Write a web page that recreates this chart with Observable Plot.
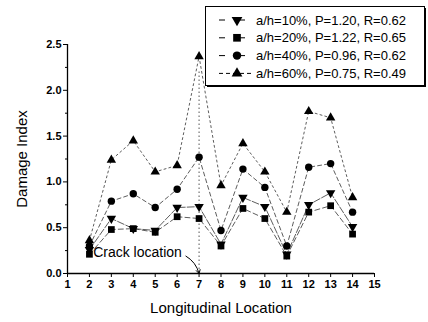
<!DOCTYPE html>
<html><head><meta charset="utf-8">
<script src="https://cdn.jsdelivr.net/npm/d3@7"></script>
<script src="https://cdn.jsdelivr.net/npm/@observablehq/plot@0.6"></script>
<style>
body{margin:0;background:#fff;}
#wrap{position:relative;width:428px;height:322px;font-family:"Liberation Sans",Arial,sans-serif;}
#legend{position:absolute;left:205px;top:6px;}
</style></head><body><div id="wrap"></div>
<script>
// ---- data ----
const locations = [2, 3, 4, 5, 6, 7, 8, 9, 10, 11, 12, 13, 14];
const seriesNames = ["a/h=10%, P=1.20, R=0.62", "a/h=20%, P=1.22, R=0.65", "a/h=40%, P=0.96, R=0.62", "a/h=60%, P=0.75, R=0.49"];
const damage10 = [0.26, 0.60, 0.49, 0.47, 0.72, 0.73, 0.32, 0.83, 0.73, 0.21, 0.75, 0.88, 0.51];
const damage20 = [0.21, 0.48, 0.49, 0.45, 0.62, 0.60, 0.30, 0.71, 0.60, 0.19, 0.67, 0.74, 0.43];
const damage40 = [0.30, 0.79, 0.87, 0.72, 0.92, 1.27, 0.47, 1.14, 0.94, 0.30, 1.16, 1.20, 0.67];
const damage60 = [0.36, 1.24, 1.45, 1.11, 1.18, 2.37, 0.96, 1.42, 1.11, 0.67, 1.77, 1.70, 0.83];
const yTicks = [0, 0.5, 1.0, 1.5, 2.0, 2.5];
const yMinorTicks = [0.25, 0.75, 1.25, 1.75, 2.25];
const xTicks = [1, 2, 3, 4, 5, 6, 7, 8, 9, 10, 11, 12, 13, 14, 15];
const xLabel = "Longitudinal Location";
const yLabel = "Damage Index";
const crackLocation = 7;
const crackLineTop = 2.2;
const crackLabel = "Crack location";
const crackLabelPos = {x: 2.17, y: 0.23};
const crackArrowStart = {x: 6.4, y: 0.19};

// ---- symbols ----
const downTriangle = {
  draw(ctx, size) {
    const y = -Math.sqrt(size / (Math.sqrt(3) * 3));
    ctx.moveTo(0, -y * 2);
    ctx.lineTo(-Math.sqrt(3) * y, y);
    ctx.lineTo(Math.sqrt(3) * y, y);
    ctx.closePath();
  }
};
const styles = [
  {symbol: downTriangle, r: 3.5, dash: "7,2"},
  {symbol: "square", r: 3.8, dash: "5,3"},
  {symbol: "circle", r: 3.7, dash: "4,3"},
  {symbol: "triangle", r: 3.5, dash: "2,3"}
];
const values = [damage10, damage20, damage40, damage60];
const tables = values.map((vals, i) => locations.map((loc, j) => ({x: loc, y: vals[j], s: seriesNames[i]})));

const drawOrder = [3, 2, 1, 0];
const marks = [];
for (const i of drawOrder) {
  marks.push(Plot.line(tables[i], {x: "x", y: "y", stroke: "#333", strokeWidth: 0.8, strokeDasharray: styles[i].dash}));
}
for (const i of drawOrder) {
  const st = styles[i];
  marks.push(Plot.dot(tables[i], {x: "x", y: "y", symbol: st.symbol, r: st.r, fill: "#000", stroke: "none"}));
}

const plot = Plot.plot({
  width: 428, height: 322,
  marginLeft: 67, marginRight: 54, marginTop: 44, marginBottom: 49,
  x: {domain: [1, 15], axis: null},
  y: {domain: [0, 2.5], axis: null},
  style: {fontFamily: "'Liberation Sans', Arial, sans-serif", fontSize: "11px", color: "#000", background: "#fff", overflow: "visible"},
  marks: [
    Plot.ruleX([crackLocation], {y1: 0, y2: crackLineTop, stroke: "#555", strokeDasharray: "1.5,2.5", strokeWidth: 1}),
    ...marks,
    Plot.ruleX([1], {stroke: "#000", strokeWidth: 1.3}),
    Plot.ruleY([0], {stroke: "#000", strokeWidth: 1.3}),
    Plot.axisY({ticks: yTicks, tickFormat: d => d.toFixed(1), tickSize: 4, tickPadding: 2, fontWeight: "bold", fontSize: 11, label: null}),
    Plot.axisY({ticks: yMinorTicks, tickFormat: () => "", tickSize: 2, label: null}),
    Plot.axisX({ticks: xTicks, tickFormat: d => String(d), tickSize: 4, tickPadding: 3, fontWeight: "bold", fontSize: 11, label: null}),
    Plot.text([yLabel], {frameAnchor: "left", text: d => d, rotate: -90, dx: -45, fontSize: 15, textAnchor: "middle", lineAnchor: "middle"}),
    Plot.text([xLabel], {frameAnchor: "bottom", text: d => d, dy: 35, fontSize: 15, textAnchor: "middle", lineAnchor: "middle"}),
    Plot.text([crackLabel], {x: crackLabelPos.x, y: crackLabelPos.y, text: d => d, textAnchor: "start", fontSize: 14, fill: "#000"}),
    Plot.arrow([0], {x1: crackArrowStart.x, y1: crackArrowStart.y, x2: crackLocation, y2: 0, bend: true, headLength: 6, stroke: "#000", strokeWidth: 1})
  ]
});
document.getElementById("wrap").appendChild(plot);

// ---- legend ----
const legend = d3.select("#wrap").append("svg").attr("id", "legend").attr("width", 223).attr("height", 83);
legend.append("rect").attr("x", 2).attr("y", 2).attr("width", 219).attr("height", 79).attr("fill", "#000");
legend.append("rect").attr("x", 0.5).attr("y", 0.5).attr("width", 219).attr("height", 79).attr("fill", "#fff").attr("stroke", "#000");
seriesNames.forEach((name, i) => {
  const cy = 14 + i * 17.8;
  const st = styles[i];
  const g = legend.append("g");
  g.append("line").attr("x1", 14).attr("x2", 47).attr("y1", cy).attr("y2", cy).attr("stroke", "#000").attr("stroke-width", 1)
    .attr("stroke-dasharray", i === 3 ? "4,3" : "6,14");
  const sym = typeof st.symbol === "string" ? {square: d3.symbolSquare, circle: d3.symbolCircle, triangle: d3.symbolTriangle}[st.symbol] : st.symbol;
  g.append("path").attr("transform", `translate(32,${cy})`).attr("d", d3.symbol(sym, Math.PI * st.r * st.r * 1.3)()).attr("fill", "#000");
  g.append("text").attr("x", 51).attr("y", cy).attr("dy", "0.36em").attr("font-size", 13).attr("font-family", "'Liberation Sans', Arial, sans-serif").text(name);
});
</script></body></html>
